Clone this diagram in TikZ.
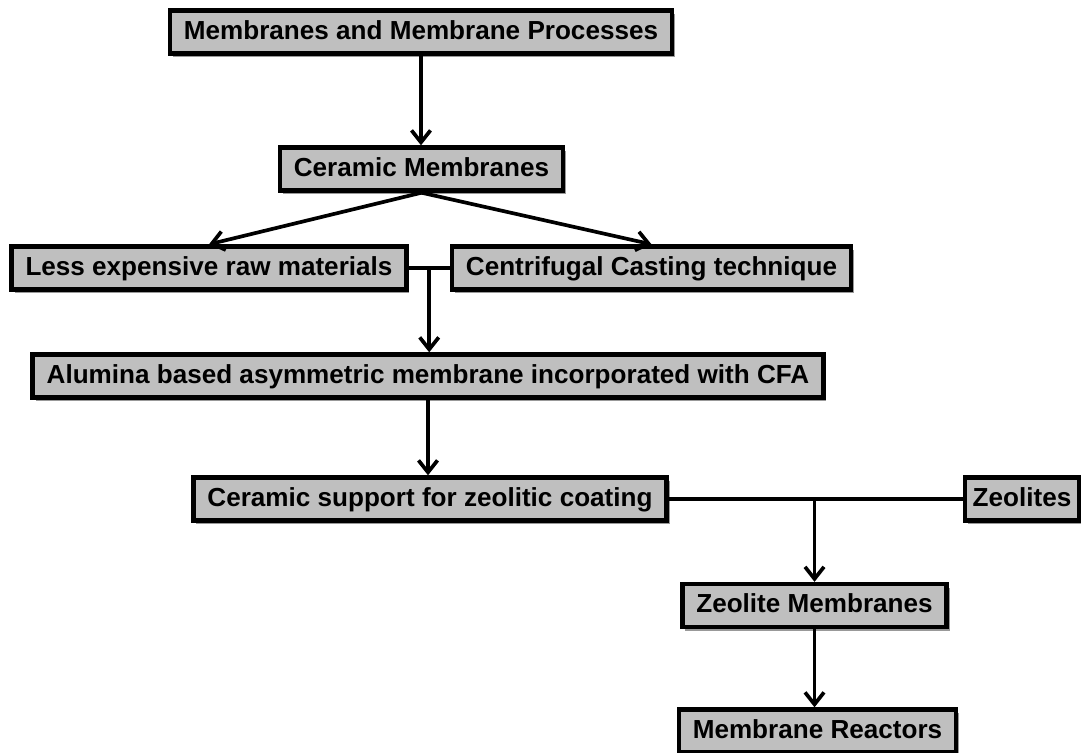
\documentclass[tikz,border=0pt]{standalone}
\usepackage{fontspec}
\setmainfont{Liberation Sans}
\usetikzlibrary{arrows.meta, shadows}
\definecolor{boxgray}{RGB}{191,191,191}

\begin{document}
\begin{tikzpicture}[x=0.02cm, y=-0.02cm,
		blk/.style = {draw, line width=2.5pt, fill=boxgray, inner xsep=0.28cm, inner ysep=0pt,
			minimum height=0.86cm, text height=11pt, text depth=3pt,
			font=\fontsize{14.85}{16}\selectfont\bfseries,
			drop shadow={shadow xshift=0.06cm, shadow yshift=-0.07cm, fill=black, opacity=0.4}},
		lnk/.style = {line width=2.1pt},
		arr/.style = {lnk, -{Straight Barb[length=2.4mm, width=3.8mm]}}]
	\useasboundingbox (0,0) rectangle (1081,752);

	\node[blk] (mmp) at (421,32) {Membranes and Membrane Processes};
	\node[blk] (cer) at (421.5,169) {Ceramic Membranes};
	\node[blk] (less) at (209,268) {Less expensive raw materials};
	\node[blk] (cent) at (651.5,268) {Centrifugal Casting technique};
	\node[blk] (alum) at (428,376) {Alumina based asymmetric membrane incorporated with CFA};
	\node[blk] (sup) at (430,499) {Ceramic support for zeolitic coating};
	\node[blk, inner xsep=0.16cm] (zeo) at (1022,499) {Zeolites};
	\node[blk] (zmem) at (814.5,605.5) {Zeolite Membranes};
	\node[blk] (react) at (817.5,731) {Membrane Reactors};

	\draw[arr] (mmp.south) -- (mmp.south |- cer.north);
	\draw[arr] (cer.south) -- (less.north);
	\draw[arr] (cer.south) -- (cent.north);

	\draw[lnk] (less.east) -- (cent.west) coordinate[pos=0.5] (j1);
	\draw[arr] (j1) -- (j1 |- alum.north);
	\draw[arr] (alum.south) -- (alum.south |- sup.north);

	\draw[lnk] (sup.east) -- (zeo.west);
	\coordinate (j2) at (zmem.north |- sup.east);
	\draw[arr] (j2) -- (zmem.north);
	\draw[arr] (zmem.south) -- (zmem.south |- react.north);
\end{tikzpicture}
\end{document}
